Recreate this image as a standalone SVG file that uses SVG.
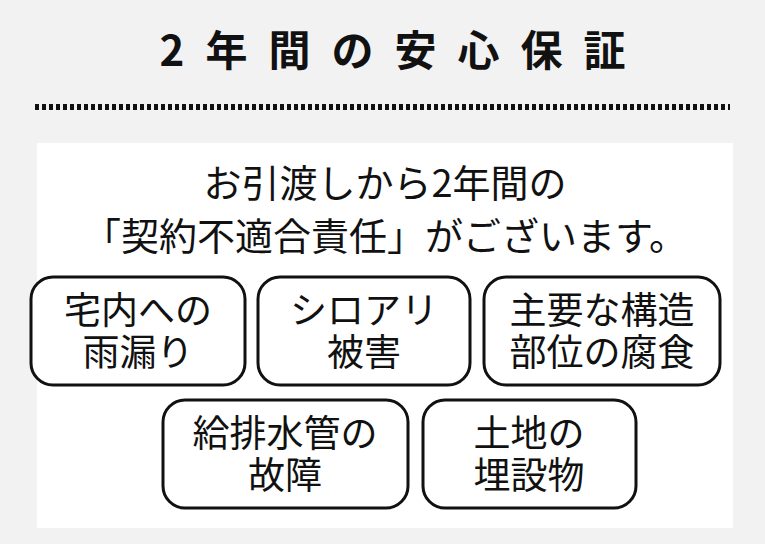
<svg xmlns="http://www.w3.org/2000/svg" width="765" height="544" viewBox="0 0 765 544">
<style>
text{font-family:"Noto Sans CJK JP","Noto Sans",sans-serif;fill:#111;text-anchor:middle}
.b{fill:#fff;stroke:#111;stroke-width:3}
.t{font-size:38px}
.s{font-size:37px}
</style>
<rect width="765" height="544" fill="#f2f2f2"/>
<text x="403" y="66" font-size="42" font-weight="bold" letter-spacing="21">2年間の安心保証</text>
<line x1="35" y1="107" x2="730" y2="107" stroke="#111" stroke-width="6" stroke-dasharray="4 3"/>
<rect x="37" y="143" width="696" height="385" fill="#fff"/>
<text class="t" x="385" y="197">お引渡しから2年間の</text>
<text class="t" x="385" y="250">「契約不適合責任」がございます。</text>
<g id="n1"><rect class="b" x="31" y="277" width="214" height="108" rx="22"/><text class="s" x="138" y="324">宅内への</text><text class="s" x="138" y="366">雨漏り</text></g>
<g id="n2"><rect class="b" x="258" y="277" width="212" height="108" rx="22"/><text class="s" x="364" y="324">シロアリ</text><text class="s" x="364" y="366">被害</text></g>
<g id="n3"><rect class="b" x="484" y="277" width="236" height="108" rx="22"/><text class="s" x="602" y="324">主要な構造</text><text class="s" x="602" y="366">部位の腐食</text></g>
<g id="n4"><rect class="b" x="163" y="400" width="245" height="108" rx="22"/><text class="s" x="285" y="447">給排水管の</text><text class="s" x="285" y="489">故障</text></g>
<g id="n5"><rect class="b" x="423" y="400" width="213" height="108" rx="22"/><text class="s" x="529" y="447">土地の</text><text class="s" x="529" y="489">埋設物</text></g>
<g id="connectors"/>
</svg>
